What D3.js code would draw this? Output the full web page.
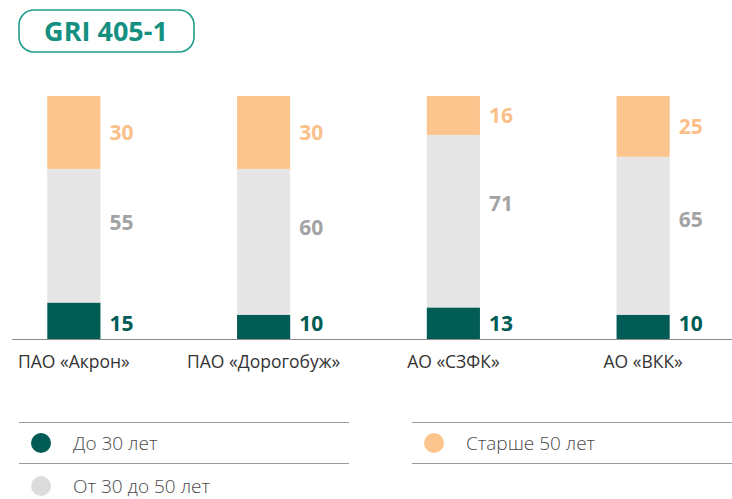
<!DOCTYPE html>
<html lang="ru">
<head>
  <meta charset="utf-8">
  <title>GRI 405-1</title>
  <script src="https://cdn.jsdelivr.net/npm/d3@7"></script>
  <style>
    body { margin: 0; background: #fff; }
    svg text { font-family: "Open Sans", "Noto Sans", sans-serif; }
  </style>
</head>
<body>
  <div id="chart-area"></div>

  <script>
    var companies = ["ПАО «Акрон»", "ПАО «Дорогобуж»", "АО «СЗФК»", "АО «ВКК»"];
    var under30 = [15, 10, 13, 10];
    var from30to50 = [55, 60, 71, 65];
    var over50 = [30, 30, 16, 25];
    var seriesNames = ["До 30 лет", "От 30 до 50 лет", "Старше 50 лет"];

    var fills = ["#005c55", "#e6e6e6", "#fcc58d"];
    var labelColors = ["#005c55", "#a3a3a3", "#fbc08a"];

    var svgWidth = 732, svgHeight = 499;
    var baseY = 339;

    var svg = d3.select("#chart-area")
                .append("svg")
                .attr("width", svgWidth)
                .attr("height", svgHeight);

    // badge
    svg.append("rect")
       .attr("x", 19).attr("y", 10)
       .attr("width", 175).attr("height", 42)
       .attr("rx", 15)
       .attr("fill", "#fff")
       .attr("stroke", "#1f9d8b")
       .attr("stroke-width", 1.6);
    svg.append("text")
       .attr("x", 106).attr("y", 40.5)
       .attr("text-anchor", "middle")
       .attr("font-size", 27)
       .attr("font-weight", 700)
       .attr("fill", "#148f80")
       .text("GRI 405-1");

    var x = d3.scaleBand()
              .domain(companies)
              .range([-21, 738])
              .paddingInner(0.72)
              .paddingOuter(0.36);

    var y = d3.scaleLinear()
              .domain([0, 100])
              .range([baseY, 96]);

    var rows = companies.map(function(c, i) {
      return { name: c, s0: under30[i], s1: from30to50[i], s2: over50[i] };
    });
    var stack = d3.stack().keys(["s0", "s1", "s2"])(rows);

    var layers = svg.selectAll("g.layer")
                    .data(stack)
                    .enter()
                    .append("g")
                    .attr("class", "layer");

    layers.selectAll("rect")
          .data(function(d) { return d; })
          .enter()
          .append("rect")
          .attr("x", function(d) { return x(d.data.name); })
          .attr("width", x.bandwidth())
          .attr("y", function(d) { return y(d[1]); })
          .attr("height", function(d) { return y(d[0]) - y(d[1]); })
          .attr("fill", function(d, i, n) { return fills[d3.select(n[i].parentNode).datum().index]; });

    // value labels
    layers.each(function(layer) {
      var k = layer.index;
      d3.select(this).selectAll("text")
        .data(layer)
        .enter()
        .append("text")
        .attr("x", function(d) { return x(d.data.name) + x.bandwidth() + 9; })
        .attr("y", function(d) {
          var top = y(d[1]), bot = y(d[0]), h = bot - top;
          if (k === 0) return baseY - 16;
          if (k === 1) return (top + bot) / 2 - h * 0.1;
          return (top + bot) / 2;
        })
        .attr("dy", "0.36em")
        .attr("font-size", 21)
        .attr("font-weight", 700)
        .attr("fill", labelColors[k])
        .text(function(d) { return d[1] - d[0]; });
    });

    // baseline + category labels
    svg.append("line")
       .attr("x1", 12).attr("x2", svgWidth)
       .attr("y1", baseY + 0.5).attr("y2", baseY + 0.5)
       .attr("stroke", "#8c8c8c");

    var xAxis = d3.axisBottom(x).tickSize(0).tickPadding(17);
    var xg = svg.append("g")
                .attr("transform", "translate(0," + baseY + ")")
                .call(xAxis);
    xg.select(".domain").remove();
    xg.selectAll("text")
      .attr("font-size", 17.5)
      .attr("fill", "#333");

    // legend
    var legendItems = [
      { name: seriesNames[0], color: fills[0], x: 19, y: 443 },
      { name: seriesNames[2], color: fills[2], x: 412, y: 443 },
      { name: seriesNames[1], color: "#dcdcdc", x: 19, y: 486 }
    ];
    [[19, 349, 422], [412, 732, 422], [19, 349, 463], [412, 732, 463]].forEach(function(l) {
      svg.append("line")
         .attr("x1", l[0]).attr("x2", l[1])
         .attr("y1", l[2] + 0.5).attr("y2", l[2] + 0.5)
         .attr("stroke", "#9a9a9a");
    });
    var lg = svg.selectAll("g.legend")
                .data(legendItems)
                .enter()
                .append("g")
                .attr("class", "legend")
                .attr("transform", function(d) { return "translate(" + d.x + "," + d.y + ")"; });
    lg.append("circle")
      .attr("cx", 22).attr("cy", 0).attr("r", 10)
      .attr("fill", function(d) { return d.color; });
    lg.append("text")
      .attr("x", 54).attr("y", 0)
      .attr("dy", "0.36em")
      .attr("font-size", 19)
      .attr("font-weight", 300)
      .attr("fill", "#4a4a4a")
      .text(function(d) { return d.name; });
  </script>
</body>
</html>
